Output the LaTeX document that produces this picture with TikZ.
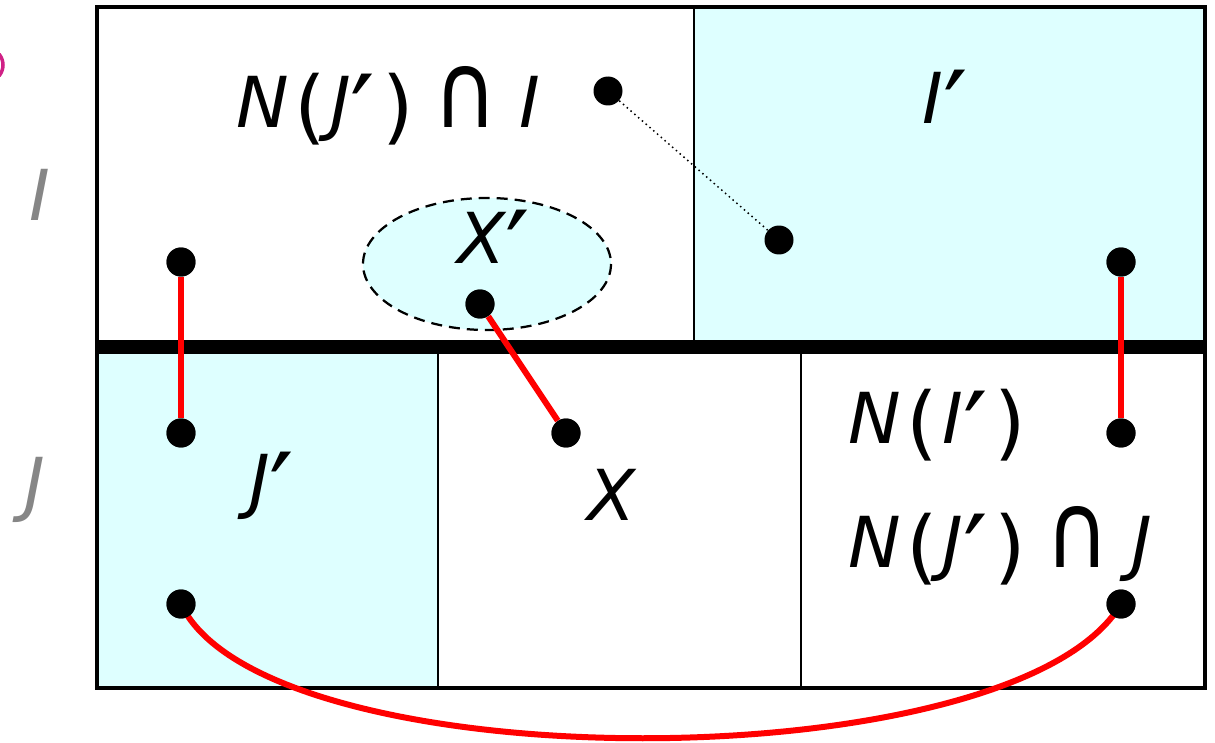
\documentclass[tikz,border=0pt]{standalone}
\usepackage{fontspec}
\usepackage{graphicx}
\setmainfont{DejaVu Sans}
\newcommand{\lp}{\raisebox{-4pt}{\fontsize{46}{46}\selectfont\upshape(}}
\newcommand{\rp}{\raisebox{-4pt}{\fontsize{46}{46}\selectfont\upshape)}}
\newcommand{\pr}{\raisebox{-15pt}{\fontsize{62}{62}\selectfont\upshape ′}}
\newcommand{\capop}{\scalebox{1.25}[1.5]{\upshape ∩}}
\begin{document}
\begin{tikzpicture}[x=0.02cm,y=-0.02cm,
  dot/.style={circle,fill=black,inner sep=0pt,minimum size=0.58cm},
  lbl/.style={font=\fontsize{40}{42}\selectfont\itshape,inner sep=0pt},
  side/.style={font=\fontsize{40}{42}\selectfont\itshape,text=gray!95,inner sep=0pt},
  redline/.style={red,line width=0.12cm},
  region/.style={fill=lightcyan},
]
\definecolor{lightcyan}{RGB}{222,255,255}
\useasboundingbox (0,0) rectangle (1215,743);
% cyan regions
\fill[region] (694,7) rectangle (1205,343);
\fill[region] (97,352) rectangle (438,688);
% dividers
\draw[line width=0.05cm] (694,7) -- (694,343);
\draw[line width=0.05cm] (438,352) -- (438,688);
\draw[line width=0.05cm] (801,352) -- (801,688);
% outer box
\draw[line width=0.07cm] (97,7) rectangle (1205,688);
% thick separator
\draw[line width=0.27cm] (97,347) -- (1205,347);
% magenta fragment at left edge
\draw[magenta!70!violet,line width=0.07cm] (-14,65) ++(40:17) arc[start angle=40,end angle=-40,radius=17];
% ellipse X'
\draw[line width=0.045cm,fill=lightcyan,dash pattern=on 0.22cm off 0.14cm] (487,264) ellipse[x radius=124,y radius=66];
% texts
\node[lbl] (tNJI) at (388,110) {N\hspace{0.08em}\lp\hspace{0.06em}J\pr\hspace{0.1em}\rp\hspace{0.28em}\capop\hspace{0.3em}I};
\node[lbl] (tIp) at (945,110) {I\pr};
\node[lbl] (tXp) at (494,250) {X\pr};
\node[lbl] (tJp) at (272,492) {J\pr};
\node[lbl] (tX) at (612,495) {X};
\node[lbl,anchor=west] (tNI) at (848,430) {N\hspace{0.08em}\lp\hspace{0.06em}I\pr\hspace{0.1em}\rp};
\node[lbl,anchor=west] (tNJJ) at (848,550) {N\hspace{0.08em}\lp\hspace{0.06em}J\pr\hspace{0.1em}\rp\hspace{0.28em}\capop\hspace{0.3em}J};
\node[side] (sI) at (40,195) {I};
\node[side] (sJ) at (35,490) {J};
% dots
\node[dot] (a1) at (608,91) {};
\node[dot] (a2) at (779,240) {};
\node[dot] (b1) at (181,262) {};
\node[dot] (b2) at (181,433) {};
\node[dot] (c1) at (1121,262) {};
\node[dot] (c2) at (1121,433) {};
\node[dot] (d1) at (480,304) {};
\node[dot] (d2) at (566,433) {};
\node[dot] (e1) at (181,604) {};
\node[dot] (e2) at (1121,604) {};
% connectors
\draw[dotted,line width=0.03cm] (a1) -- (a2);
\draw[redline] (b1) -- (b2);
\draw[redline] (c1) -- (c2);
\draw[redline] (d1) -- (d2);
\draw[redline] (e1.center) .. controls (265,783) and (1015,783) .. (e2.center);
% redraw dots on top
\node[dot] at (b1) {};
\node[dot] at (b2) {};
\node[dot] at (c1) {};
\node[dot] at (c2) {};
\node[dot] at (d1) {};
\node[dot] at (d2) {};
\node[dot] at (e1) {};
\node[dot] at (e2) {};
\end{tikzpicture}
\end{document}
